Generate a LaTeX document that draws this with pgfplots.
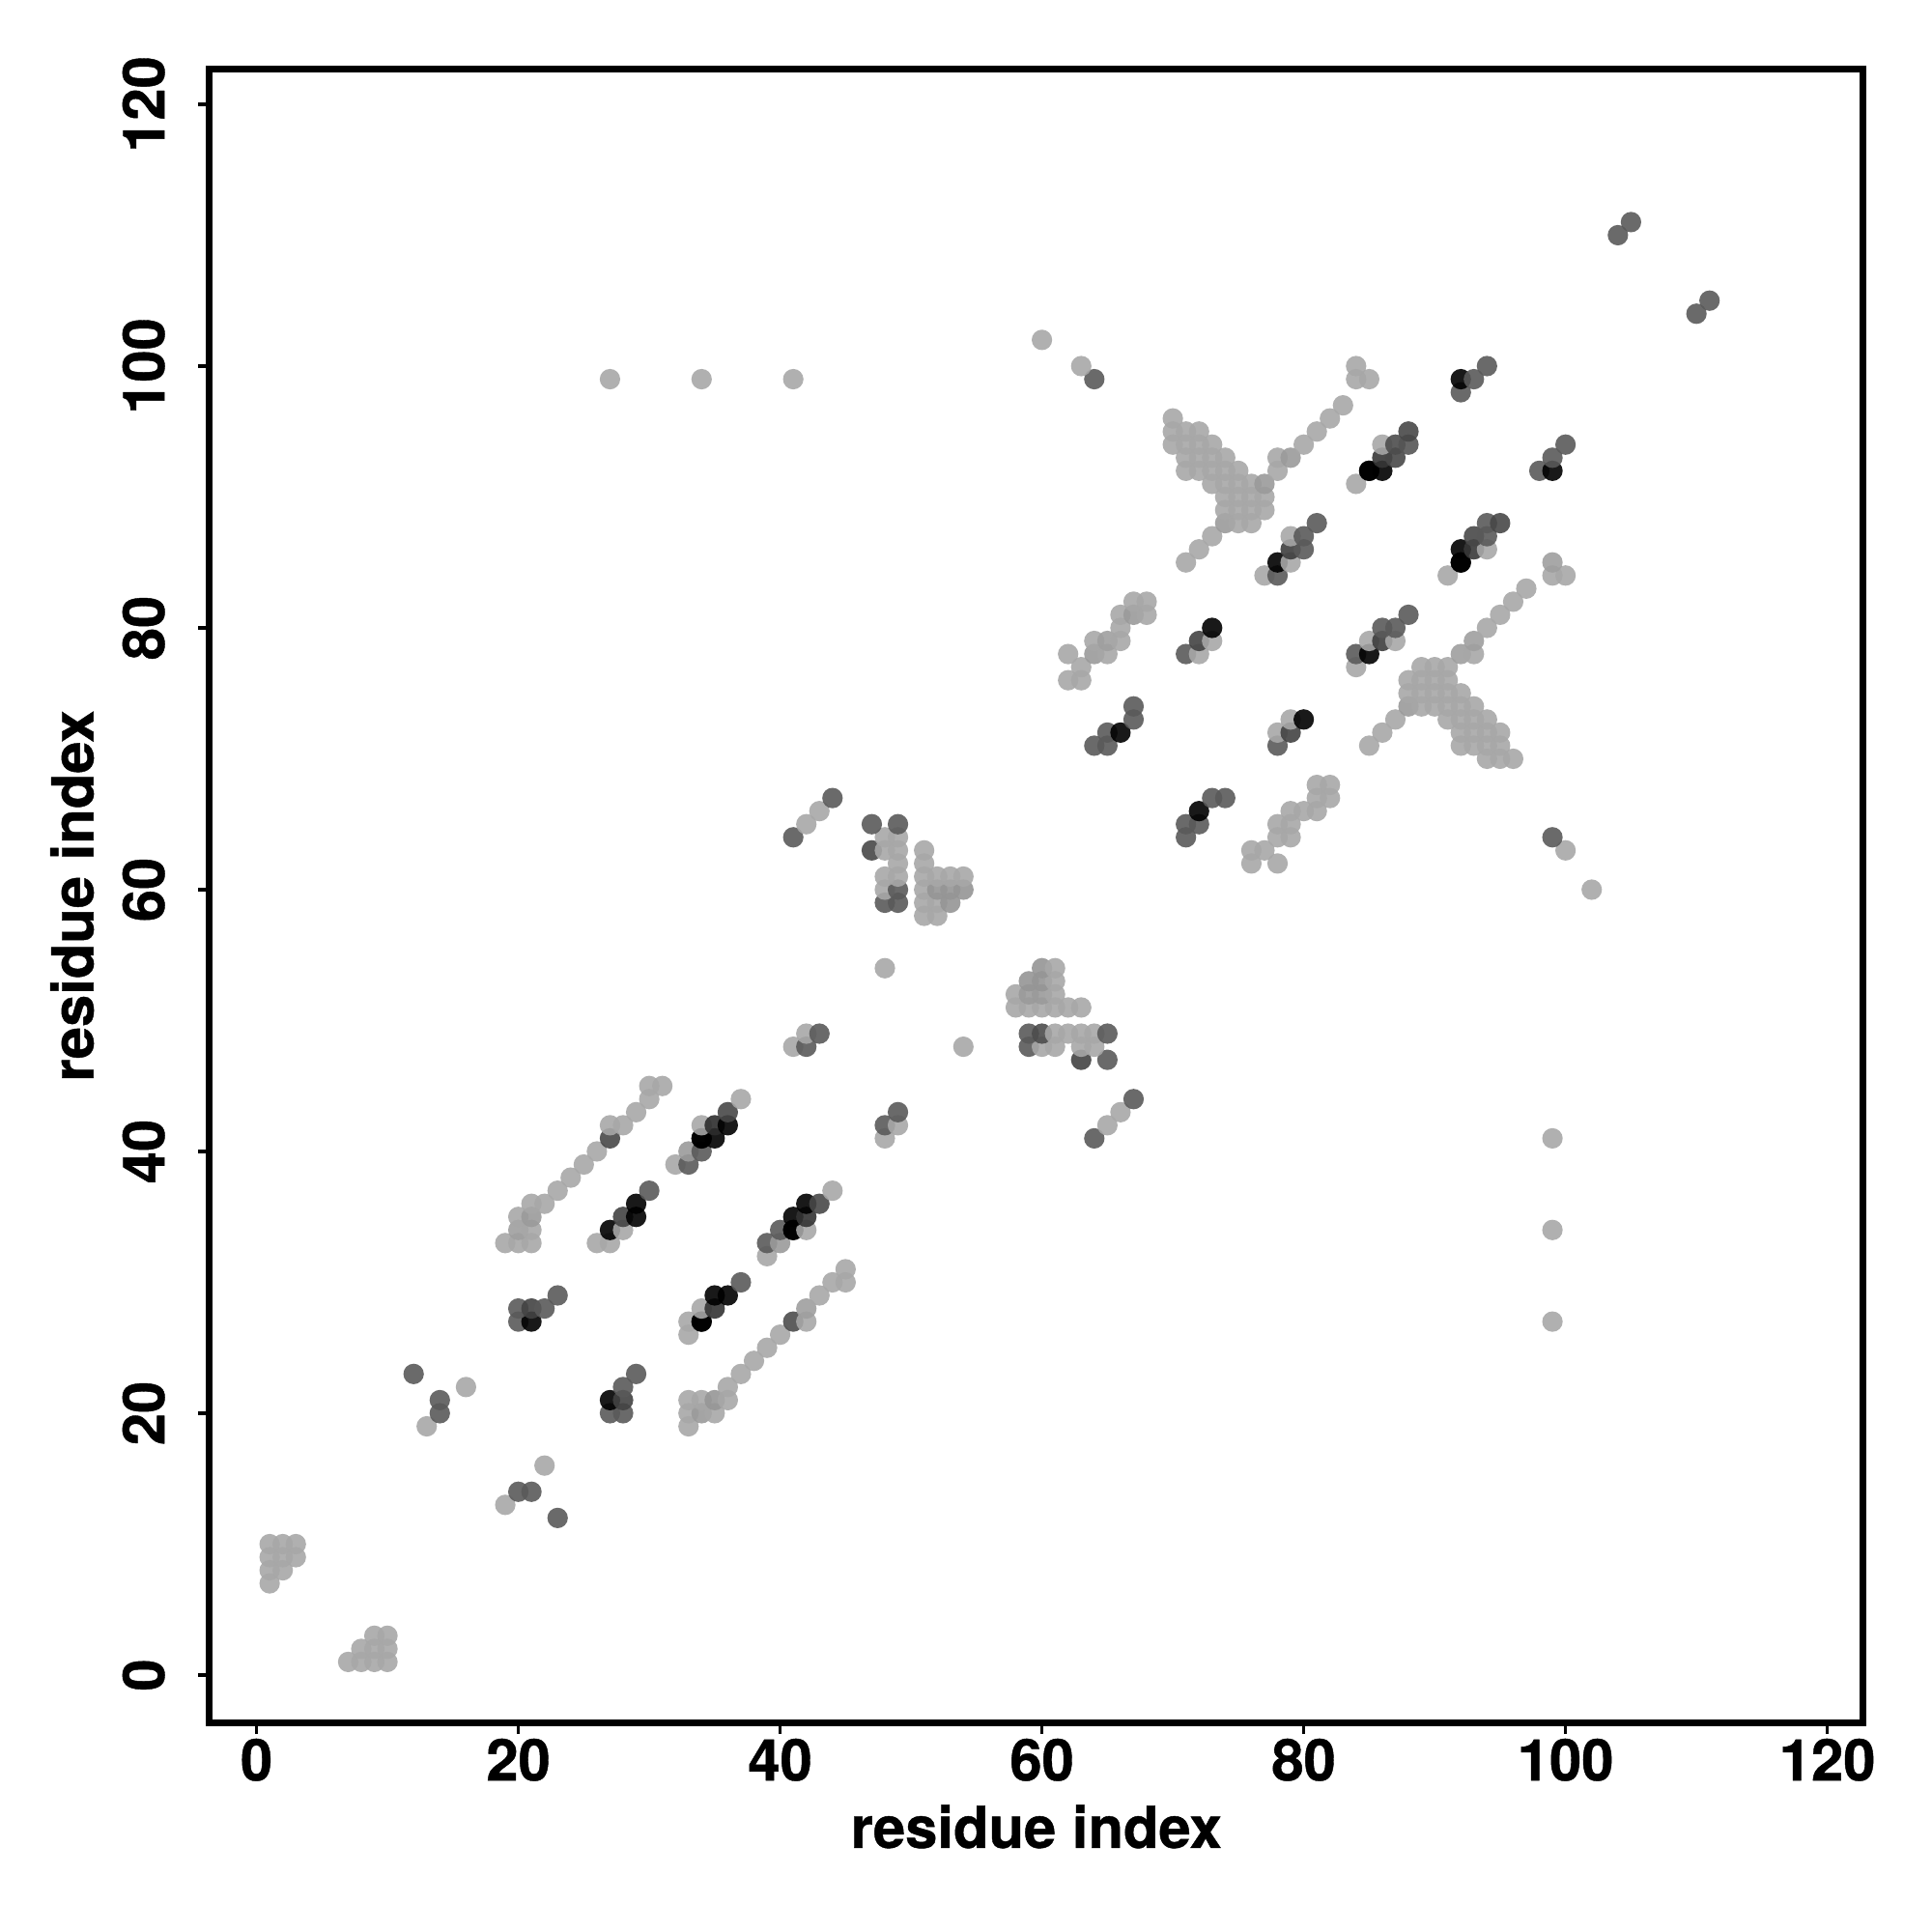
\documentclass[border=0pt]{standalone}
\usepackage{fontspec}
\setmainfont{TeX Gyre Heros}[BoldFeatures={FakeBold=0.7}]
\usepackage{pgfplots}
\pgfplotsset{compat=1.18}
\begin{document}
\begin{tikzpicture}
\path[use as bounding box] (-21.68mm,-21.63mm) rectangle (178.32mm,178.37mm);
\begin{axis}[
  at={(0,0)}, anchor=south west,
  scale only axis, width=171.17mm, height=171.23mm,
  xmin=-3.6, xmax=122.72, ymin=-3.67, ymax=122.7,
  xtick={0,20,...,120}, ytick={0,20,...,120},
  xtick pos=bottom, ytick pos=left, tick align=outside,
  major tick length=1.15mm,
  tick style={black, line width=0.35mm},
  axis line style={black, line width=0.7mm, line join=miter},
  /pgf/number format/assume math mode=true,
  ticklabel style={font=\bfseries\fontsize{17}{20}\selectfont},
  xticklabel style={anchor=north, inner sep=0pt, yshift=-0.4mm},
  yticklabel style={rotate=90, anchor=south, inner sep=0pt, yshift=3.4mm},
  label style={font=\bfseries\fontsize{17}{20}\selectfont},
  xlabel={residue index}, ylabel={residue index},
  xlabel style={at={(axis description cs:0.5,0)}, anchor=north, inner sep=0pt, yshift=-8.4mm},
  ylabel style={at={(axis description cs:0,0.5)}, rotate=0, anchor=south, inner sep=0pt, yshift=11.9mm},
  colormap={bw}{gray(0cm)=(0); gray(1cm)=(1)},
  point meta min=0, point meta max=1,
]
\addplot[only marks, scatter, mark=*, mark size=1.06mm, point meta=explicit,
  scatter/use mapped color={draw opacity=0, fill=mapped color, fill opacity=0.9}]
table[row sep=\\, x=x, y=y, meta=g] {
x y g\\
7 1 .65\\ 8 1 .65\\ 9 1 .65\\ 10 1 .65\\
8 2 .65\\ 9 2 .65\\ 10 2 .65\\
9 3 .65\\ 10 3 .65\\
1 7 .65\\
1 8 .65\\ 2 8 .65\\
1 9 .65\\ 2 9 .65\\ 3 9 .65\\
1 10 .65\\ 2 10 .65\\ 3 10 .65\\
23 12 .35\\
19 13 .65\\
20 14 .35\\ 21 14 .35\\
22 16 .65\\
13 19 .65\\ 33 19 .65\\
14 20 .35\\ 27 20 .35\\ 28 20 .35\\ 33 20 .65\\ 34 20 .6\\ 35 20 .65\\
14 21 .35\\ 27 21 0\\ 28 21 .26\\ 33 21 .65\\ 34 21 .65\\ 35 21 .585\\ 36 21 .65\\
16 22 .65\\ 28 22 .35\\ 36 22 .65\\
12 23 .35\\ 29 23 .35\\ 37 23 .65\\
38 24 .65\\
39 25 .65\\
33 26 .65\\ 40 26 .65\\
20 27 .35\\ 21 27 0\\ 33 27 .65\\ 34 27 0\\ 34 27 0\\ 41 27 .3\\ 42 27 .65\\ 99 27 .65\\
20 28 .35\\ 21 28 .26\\ 22 28 .35\\ 34 28 .65\\ 35 28 .2\\ 42 28 .62\\
23 29 .35\\ 35 29 0\\ 36 29 0\\ 43 29 .65\\
37 30 .35\\ 44 30 .65\\ 45 30 .65\\
45 31 .65\\
39 32 .65\\
19 33 .65\\ 20 33 .65\\ 21 33 .65\\ 26 33 .65\\ 27 33 .65\\ 39 33 .35\\ 40 33 .6\\
20 34 .62\\ 21 34 .65\\ 27 34 0\\ 28 34 .65\\ 40 34 .35\\ 41 34 0\\ 41 34 0\\ 42 34 .65\\ 99 34 .65\\
20 35 .65\\ 21 35 .6\\ 28 35 .26\\ 29 35 0\\ 41 35 0\\ 42 35 .2\\
21 36 .65\\ 22 36 .65\\ 29 36 0\\ 42 36 0\\ 43 36 .28\\
23 37 .65\\ 30 37 .35\\ 44 37 .65\\
24 38 .65\\
25 39 .65\\ 32 39 .65\\ 33 39 .35\\
26 40 .65\\ 33 40 .6\\ 34 40 .35\\
27 41 .28\\ 34 41 0\\ 34 41 0\\ 35 41 0\\ 48 41 .65\\ 64 41 .35\\ 99 41 .65\\
27 42 .65\\ 28 42 .65\\ 34 42 .65\\ 35 42 .17\\ 36 42 0\\ 48 42 .35\\ 49 42 .65\\ 65 42 .65\\
29 43 .65\\ 36 43 .28\\ 49 43 .35\\ 66 43 .65\\
30 44 .65\\ 37 44 .65\\ 67 44 .35\\
30 45 .65\\ 31 45 .65\\
63 47 .26\\ 65 47 .35\\
41 48 .65\\ 42 48 .35\\ 54 48 .65\\ 59 48 .35\\ 60 48 .65\\ 61 48 .65\\ 63 48 .65\\ 64 48 .65\\
42 49 .65\\ 43 49 .35\\ 59 49 .35\\ 60 49 .3\\ 61 49 .65\\ 62 49 .65\\ 63 49 .65\\ 64 49 .65\\ 65 49 .35\\
58 51 .65\\ 59 51 .65\\ 60 51 .65\\ 61 51 .65\\ 62 51 .65\\ 63 51 .65\\
58 52 .65\\ 59 52 .6\\ 60 52 .6\\ 61 52 .65\\
59 53 .58\\ 60 53 .58\\ 61 53 .65\\
48 54 .65\\ 60 54 .58\\ 61 54 .65\\
51 58 .65\\ 52 58 .65\\
48 59 .35\\ 49 59 .35\\ 51 59 .65\\ 52 59 .65\\ 53 59 .58\\
48 60 .65\\ 49 60 .35\\ 51 60 .65\\ 52 60 .58\\ 53 60 .58\\ 54 60 .58\\ 102 60 .65\\
48 61 .65\\ 49 61 .65\\ 51 61 .65\\ 52 61 .65\\ 53 61 .65\\ 54 61 .65\\
49 62 .65\\ 51 62 .65\\ 76 62 .65\\ 78 62 .65\\
47 63 .28\\ 48 63 .65\\ 49 63 .65\\ 51 63 .65\\ 76 63 .65\\ 77 63 .65\\ 100 63 .65\\
41 64 .35\\ 48 64 .65\\ 49 64 .65\\ 71 64 .35\\ 78 64 .65\\ 79 64 .65\\ 99 64 .35\\
42 65 .65\\ 47 65 .35\\ 49 65 .35\\ 71 65 .35\\ 72 65 .35\\ 78 65 .65\\ 79 65 .65\\
43 66 .65\\ 72 66 0\\ 79 66 .65\\ 80 66 .65\\ 81 66 .65\\
44 67 .35\\ 73 67 .35\\ 74 67 .35\\ 81 67 .65\\ 82 67 .65\\
81 68 .65\\ 82 68 .65\\
94 70 .65\\ 95 70 .65\\ 96 70 .65\\
64 71 .35\\ 65 71 .35\\ 78 71 .35\\ 85 71 .65\\ 92 71 .65\\ 93 71 .65\\ 94 71 .65\\ 95 71 .65\\
65 72 .35\\ 66 72 0\\ 78 72 .65\\ 79 72 .26\\ 86 72 .65\\ 92 72 .65\\ 93 72 .65\\ 94 72 .65\\ 95 72 .65\\
67 73 .35\\ 79 73 .65\\ 80 73 0\\ 87 73 .65\\ 91 73 .65\\ 92 73 .65\\ 93 73 .65\\ 94 73 .65\\
67 74 .35\\ 88 74 .6\\ 89 74 .65\\ 90 74 .65\\ 91 74 .65\\ 92 74 .65\\ 93 74 .65\\
88 75 .65\\ 89 75 .65\\ 90 75 .65\\ 91 75 .65\\ 92 75 .65\\
62 76 .65\\ 63 76 .65\\ 88 76 .65\\ 89 76 .65\\ 90 76 .65\\ 91 76 .65\\
63 77 .65\\ 84 77 .65\\ 89 77 .65\\ 90 77 .65\\ 91 77 .65\\
62 78 .65\\ 64 78 .6\\ 65 78 .65\\ 71 78 .35\\ 72 78 .65\\ 84 78 .35\\ 85 78 0\\ 92 78 .62\\ 93 78 .65\\
64 79 .65\\ 65 79 .62\\ 66 79 .65\\ 72 79 .26\\ 73 79 .65\\ 85 79 .65\\ 86 79 .24\\ 87 79 .65\\ 93 79 .62\\
66 80 .65\\ 73 80 0\\ 86 80 .35\\ 87 80 .35\\ 94 80 .65\\
66 81 .65\\ 67 81 .6\\ 68 81 .65\\ 88 81 .35\\ 95 81 .65\\
67 82 .65\\ 68 82 .65\\ 96 82 .65\\
97 83 .65\\
77 84 .65\\ 78 84 .35\\ 91 84 .65\\ 99 84 .65\\ 100 84 .65\\
71 85 .65\\ 78 85 0\\ 79 85 .65\\ 92 85 0\\ 92 85 0\\ 99 85 .62\\
72 86 .65\\ 79 86 .24\\ 80 86 .35\\ 92 86 0\\ 93 86 .22\\ 94 86 .65\\
73 87 .65\\ 79 87 .65\\ 80 87 .35\\ 93 87 .28\\ 94 87 .35\\
74 88 .6\\ 75 88 .65\\ 76 88 .65\\ 81 88 .35\\ 94 88 .35\\ 95 88 .28\\
74 89 .65\\ 75 89 .65\\ 76 89 .65\\ 77 89 .65\\
74 90 .65\\ 75 90 .65\\ 76 90 .65\\ 77 90 .65\\
73 91 .65\\ 74 91 .65\\ 75 91 .65\\ 76 91 .65\\ 77 91 .6\\ 84 91 .65\\
71 92 .65\\ 72 92 .65\\ 73 92 .65\\ 74 92 .65\\ 75 92 .65\\ 78 92 .65\\ 85 92 0\\ 85 92 0\\ 86 92 0\\ 98 92 .35\\ 99 92 0\\
71 93 .65\\ 72 93 .65\\ 73 93 .65\\ 74 93 .65\\ 78 93 .65\\ 79 93 .6\\ 86 93 .21\\ 87 93 .28\\ 99 93 .35\\
70 94 .65\\ 71 94 .65\\ 72 94 .65\\ 73 94 .65\\ 80 94 .65\\ 86 94 .65\\ 87 94 .3\\ 88 94 .33\\ 100 94 .35\\
70 95 .65\\ 71 95 .65\\ 72 95 .65\\ 81 95 .65\\ 88 95 .28\\
70 96 .65\\ 82 96 .65\\
83 97 .65\\
92 98 .35\\
27 99 .65\\ 34 99 .65\\ 41 99 .65\\ 64 99 .35\\ 84 99 .65\\ 85 99 .65\\ 92 99 0\\ 93 99 .35\\
63 100 .65\\ 84 100 .65\\ 94 100 .35\\
60 102 .65\\
110 104 .35\\
111 105 .35\\
104 110 .35\\
105 111 .35\\
};
\end{axis}
\end{tikzpicture}
\end{document}
